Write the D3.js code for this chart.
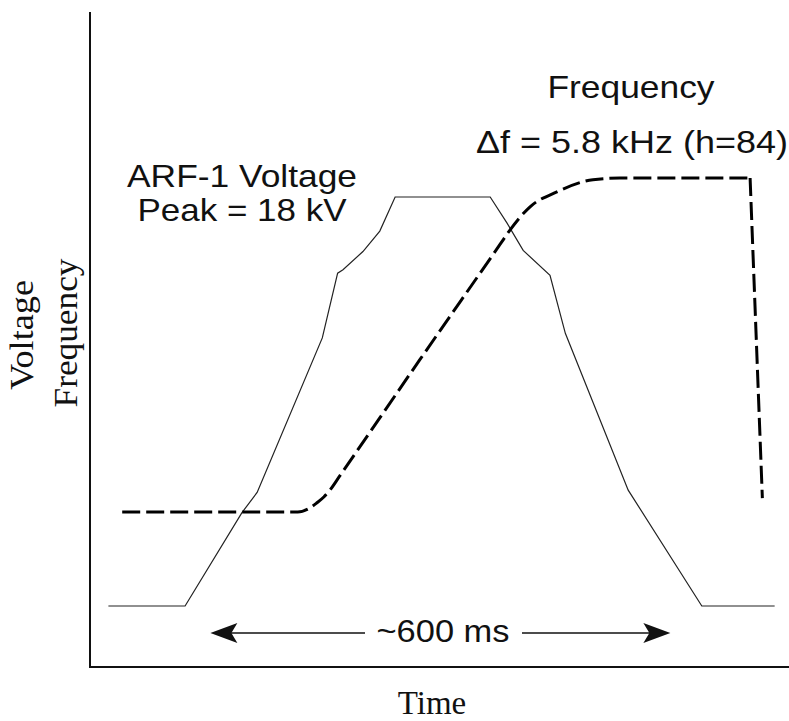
<!DOCTYPE html>
<html>
<head>
<meta charset="utf-8">
<script src="https://cdn.jsdelivr.net/npm/d3@7"></script>
<style>
  html, body { margin: 0; padding: 0; background: #fff; }
  svg { display: block; }
</style>
</head>
<body>
<svg id="chart"></svg>
<script>
// ARF-1 voltage programme (time in ms, voltage in kV)
const voltTime = [24, 124, 198, 218, 303, 323, 330, 356, 378, 398, 522, 544, 565, 600, 620, 702, 798, 893];
const voltKV   = [0, 0, 4.1, 5.0, 11.8, 14.65, 14.8, 15.6, 16.5, 18, 18, 16.85, 15.65, 14.55, 12.0, 5.1, 0, 0];

// frequency swing (time in ms, delta f in kHz)
const freqTime = [42, 271, 284, 296, 305, 313, 326, 430, 535, 548, 574, 609, 656, 691, 861];
const freqKHz  = [0, 0, 0.05, 0.16, 0.26, 0.38, 0.63, 2.64, 4.65, 4.9, 5.3, 5.56, 5.77, 5.8, 5.8];
const dropTime = [861, 877];
const dropKHz  = [5.8, 0.24];

// ~600 ms marker
const spanTime = [157, 757];

const width = 789, height = 721;
const plotLeft = 90, plotTop = 12, plotBottom = 667;

const svg = d3.select('#chart')
    .attr('width', width)
    .attr('height', height);

const x = d3.scaleLinear().domain([0, 900]).range([plotLeft, 780]);
const yV = d3.scaleLinear().domain([0, 18]).range([606, 197]);
const yF = d3.scaleLinear().domain([0, 5.8]).range([512, 178]);

// axes (plain lines, no ticks)
svg.append('line')
    .attr('x1', plotLeft).attr('x2', plotLeft)
    .attr('y1', plotTop).attr('y2', plotBottom)
    .attr('stroke', '#111').attr('stroke-width', 2);
svg.append('line')
    .attr('x1', plotLeft - 1).attr('x2', width)
    .attr('y1', plotBottom).attr('y2', plotBottom)
    .attr('stroke', '#111').attr('stroke-width', 2);

// voltage curve
const voltData = voltTime.map((t, i) => ({t: t, v: voltKV[i]}));
svg.append('path')
    .datum(voltData)
    .attr('fill', 'none')
    .attr('stroke', '#222')
    .attr('stroke-width', 1.2)
    .attr('d', d3.line().x(d => x(d.t)).y(d => yV(d.v)));

// frequency curve
const freqData = freqTime.map((t, i) => ({t: t, f: freqKHz[i]}));
const freqLine = d3.line().x(d => x(d.t)).y(d => yF(d.f));
svg.append('path')
    .datum(freqData)
    .attr('fill', 'none')
    .attr('stroke', '#000')
    .attr('stroke-width', 3)
    .attr('stroke-dasharray', '18,6')
    .attr('d', freqLine.curve(d3.curveMonotoneX));

const dropData = dropTime.map((t, i) => ({t: t, f: dropKHz[i]}));
svg.append('path')
    .datum(dropData)
    .attr('fill', 'none')
    .attr('stroke', '#000')
    .attr('stroke-width', 3)
    .attr('stroke-dasharray', '18,6')
    .attr('d', d3.line().x(d => x(d.t)).y(d => yF(d.f)));

// span arrow
const arrowY = 633;
const labelX = 443;
svg.append('text')
    .attr('x', labelX).attr('y', 642)
    .attr('text-anchor', 'middle')
    .style('font-family', 'Liberation Sans, Arial, sans-serif')
    .style('font-size', '32px')
    .attr('textLength', 133)
    .attr('lengthAdjust', 'spacingAndGlyphs')
    .attr('fill', '#111')
    .text('~600 ms');

const x0 = x(spanTime[0]), x1 = x(spanTime[1]);
svg.append('line')
    .attr('x1', x0 + 10).attr('x2', labelX - 78)
    .attr('y1', arrowY).attr('y2', arrowY)
    .attr('stroke', '#111').attr('stroke-width', 1.3);
svg.append('line')
    .attr('x1', labelX + 79).attr('x2', x1 - 10)
    .attr('y1', arrowY).attr('y2', arrowY)
    .attr('stroke', '#111').attr('stroke-width', 1.3);

function arrowHead(tipX, dir) {
    // dir = 1 points right, -1 points left
    const len = 27, half = 10, notch = 21;
    return `M${tipX},${arrowY}`
        + `L${tipX - dir * len},${arrowY - half}`
        + `L${tipX - dir * notch},${arrowY}`
        + `L${tipX - dir * len},${arrowY + half}Z`;
}
svg.append('path').attr('d', arrowHead(x0, -1)).attr('fill', '#111');
svg.append('path').attr('d', arrowHead(x1, 1)).attr('fill', '#111');

// annotations
const sans = 'Liberation Sans, Arial, sans-serif';
const notes = [
    {text: 'ARF-1 Voltage', x: 242, y: 187, w: 230},
    {text: 'Peak = 18 kV', x: 242, y: 221, w: 209},
    {text: 'Frequency', x: 631, y: 98, w: 167},
    {text: '\u0394f = 5.8 kHz (h=84)', x: 632, y: 153, w: 312}
];
svg.selectAll('text.note')
    .data(notes)
    .enter()
    .append('text')
    .attr('class', 'note')
    .attr('x', d => d.x).attr('y', d => d.y)
    .attr('text-anchor', 'middle')
    .attr('textLength', d => d.w)
    .attr('lengthAdjust', 'spacingAndGlyphs')
    .style('font-family', sans)
    .style('font-size', '32px')
    .attr('fill', '#111')
    .text(d => d.text);

// axis titles (serif)
const serif = 'Liberation Serif, Times New Roman, serif';
svg.append('text')
    .attr('x', 432).attr('y', 714)
    .attr('text-anchor', 'middle')
    .style('font-family', serif)
    .style('font-size', '33px')
    .attr('fill', '#111')
    .text('Time');

svg.append('text')
    .attr('transform', 'translate(33,335) rotate(-90)')
    .attr('text-anchor', 'middle')
    .style('font-family', serif)
    .style('font-size', '33px')
    .attr('textLength', 110)
    .attr('lengthAdjust', 'spacingAndGlyphs')
    .attr('fill', '#111')
    .text('Voltage');

svg.append('text')
    .attr('transform', 'translate(77,333) rotate(-90)')
    .attr('text-anchor', 'middle')
    .style('font-family', serif)
    .style('font-size', '33px')
    .attr('textLength', 149)
    .attr('lengthAdjust', 'spacingAndGlyphs')
    .attr('fill', '#111')
    .text('Frequency');
</script>
</body>
</html>
